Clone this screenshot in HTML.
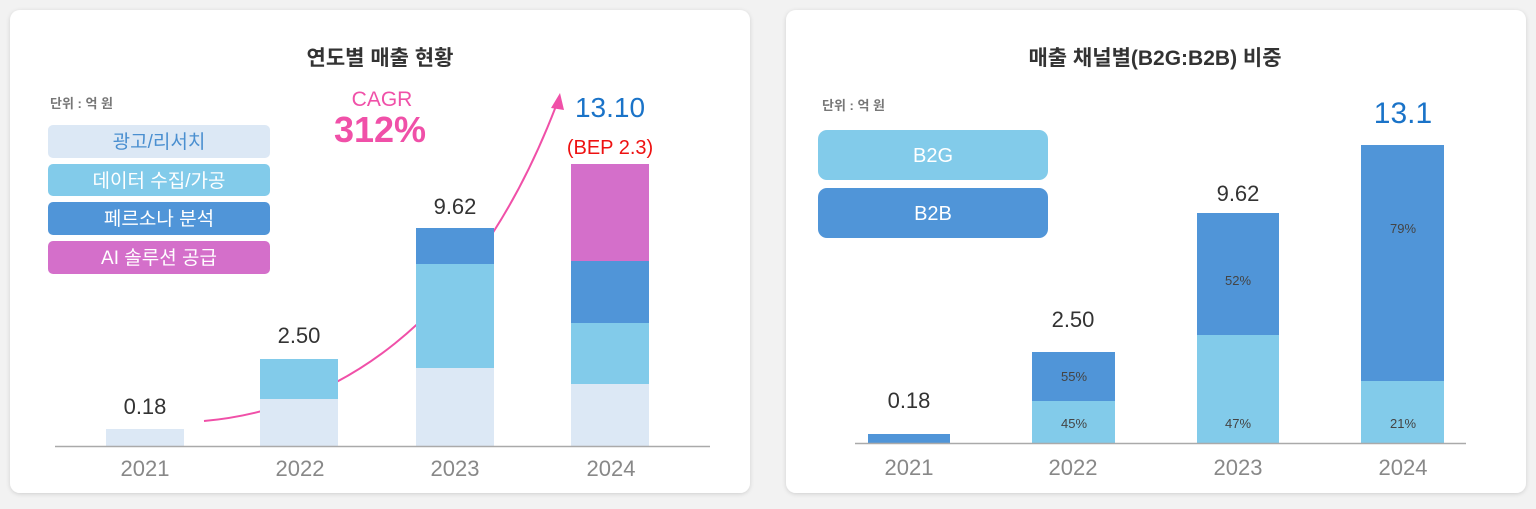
<!DOCTYPE html>
<html><head><meta charset="utf-8"><style>
body{margin:0;width:1536px;height:504px;background:#f2f2f2;overflow:hidden;font-family:"Liberation Sans","Noto Sans CJK KR",sans-serif;}
</style></head><body>
<svg width="1536" height="504" xmlns="http://www.w3.org/2000/svg" font-family="Liberation Sans, Noto Sans CJK KR, sans-serif">
<defs><filter id="s" x="-5%" y="-5%" width="110%" height="110%"><feDropShadow dx="0" dy="1" stdDeviation="2" flood-color="#000" flood-opacity="0.15"/></filter></defs>
<rect x="10" y="10" width="740" height="483" rx="10" fill="#fff" filter="url(#s)"/>
<rect x="786" y="10" width="740" height="483" rx="10" fill="#fff" filter="url(#s)"/>

<!-- LEFT -->
<text x="380" y="65" text-anchor="middle" font-size="21" font-weight="bold" fill="#333">연도별 매출 현황</text>
<text x="50" y="108" font-size="13" font-weight="bold" fill="#777">단위 : 억 원</text>
<rect x="48" y="125" width="222" height="33" rx="5" fill="#dce8f5"/>
<text x="159" y="148" text-anchor="middle" font-size="19" fill="#4a8fd0">광고/리서치</text>
<rect x="48" y="164" width="222" height="32" rx="5" fill="#82cbea"/>
<text x="159" y="187" text-anchor="middle" font-size="19" fill="#fff">데이터 수집/가공</text>
<rect x="48" y="202" width="222" height="33" rx="5" fill="#5095d8"/>
<text x="159" y="225" text-anchor="middle" font-size="19" fill="#fff">페르소나 분석</text>
<rect x="48" y="241" width="222" height="33" rx="5" fill="#d46fca"/>
<text x="159" y="264" text-anchor="middle" font-size="19" fill="#fff">AI 솔루션 공급</text>

<path d="M204 421 C 330 410 470 330 556 106" fill="none" stroke="#f050a8" stroke-width="2"/>
<polygon points="560,93 551,108 564,110" fill="#f050a8"/>

<rect x="106" y="429" width="78" height="17" fill="#dce8f5"/>
<rect x="260" y="399" width="78" height="47" fill="#dce8f5"/>
<rect x="260" y="359" width="78" height="40" fill="#82cbea"/>
<rect x="416" y="368" width="78" height="78" fill="#dce8f5"/>
<rect x="416" y="264" width="78" height="104" fill="#82cbea"/>
<rect x="416" y="228" width="78" height="36" fill="#5095d8"/>
<rect x="571" y="384" width="78" height="62" fill="#dce8f5"/>
<rect x="571" y="323" width="78" height="61" fill="#82cbea"/>
<rect x="571" y="261" width="78" height="62" fill="#5095d8"/>
<rect x="571" y="164" width="78" height="97" fill="#d46fca"/>
<line x1="55" y1="446.5" x2="710" y2="446.5" stroke="#aaa" stroke-width="1.5"/>

<g font-size="22" fill="#333" text-anchor="middle">
<text x="145" y="414">0.18</text><text x="299" y="343">2.50</text><text x="455" y="214">9.62</text></g>
<text x="610" y="117" text-anchor="middle" font-size="28" fill="#1a73c8">13.10</text>
<text x="610" y="154" text-anchor="middle" font-size="20" fill="#ee1111">(BEP 2.3)</text>
<text x="382" y="106" text-anchor="middle" font-size="21" fill="#f050a8">CAGR</text>
<text x="380" y="142" text-anchor="middle" font-size="36" font-weight="bold" fill="#f050a8">312%</text>
<g font-size="22" fill="#888" text-anchor="middle">
<text x="145" y="476">2021</text><text x="300" y="476">2022</text><text x="455" y="476">2023</text><text x="611" y="476">2024</text></g>

<!-- RIGHT -->
<text x="1155" y="65" text-anchor="middle" font-size="21" font-weight="bold" fill="#333">매출 채널별(B2G:B2B) 비중</text>
<text x="822" y="110" font-size="13" font-weight="bold" fill="#777">단위 : 억 원</text>
<rect x="818" y="130" width="230" height="50" rx="9" fill="#82cbea"/>
<text x="933" y="162" text-anchor="middle" font-size="20" fill="#fff">B2G</text>
<rect x="818" y="188" width="230" height="50" rx="9" fill="#5095d8"/>
<text x="933" y="220" text-anchor="middle" font-size="20" fill="#fff">B2B</text>

<rect x="868" y="434" width="82" height="9" fill="#5095d8"/>
<rect x="1032" y="401" width="83" height="42" fill="#82cbea"/>
<rect x="1032" y="352" width="83" height="49" fill="#5095d8"/>
<rect x="1197" y="335" width="82" height="108" fill="#82cbea"/>
<rect x="1197" y="213" width="82" height="122" fill="#5095d8"/>
<rect x="1361" y="381" width="83" height="62" fill="#82cbea"/>
<rect x="1361" y="145" width="83" height="236" fill="#5095d8"/>
<line x1="855" y1="443.5" x2="1466" y2="443.5" stroke="#aaa" stroke-width="1.5"/>
<g font-size="13" fill="#444" text-anchor="middle">
<text x="1074" y="381">55%</text><text x="1074" y="428">45%</text>
<text x="1238" y="285">52%</text><text x="1238" y="428">47%</text>
<text x="1403" y="233">79%</text><text x="1403" y="428">21%</text></g>
<g font-size="22" fill="#333" text-anchor="middle">
<text x="909" y="408">0.18</text><text x="1073" y="327">2.50</text><text x="1238" y="201">9.62</text></g>
<text x="1403" y="123" text-anchor="middle" font-size="30" fill="#1a73c8">13.1</text>
<g font-size="22" fill="#888" text-anchor="middle">
<text x="909" y="475">2021</text><text x="1073" y="475">2022</text><text x="1238" y="475">2023</text><text x="1403" y="475">2024</text></g>
</svg>
</body></html>
